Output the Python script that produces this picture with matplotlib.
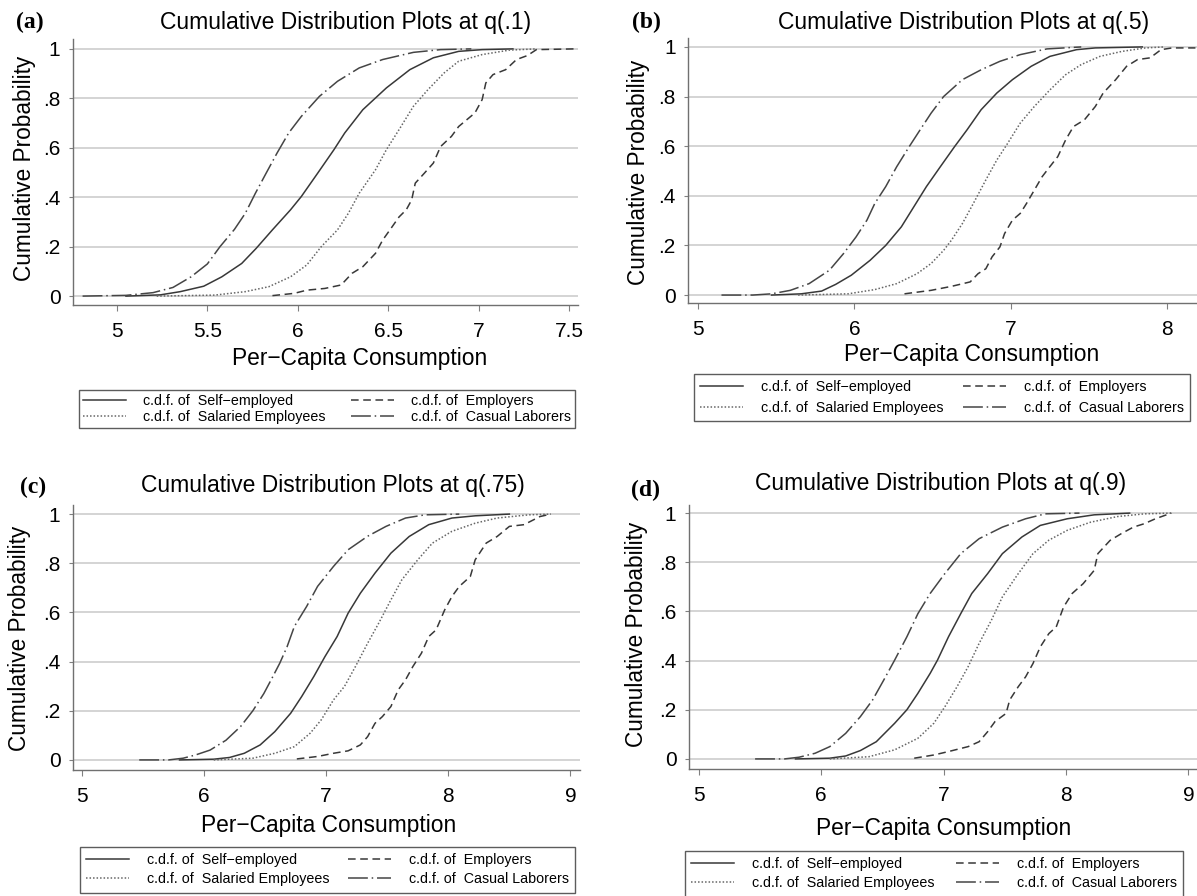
import matplotlib
matplotlib.use("Agg")
import matplotlib.pyplot as plt

plt.rcParams["font.family"] = ["Liberation Sans", "DejaVu Sans"]

W, H = 1197, 896

series_labels = [
    "c.d.f. of  Self\u2212employed",
    "c.d.f. of  Salaried Employees",
    "c.d.f. of  Employers",
    "c.d.f. of  Casual Laborers",
]
titles = [
    "Cumulative Distribution Plots at q(.1)",
    "Cumulative Distribution Plots at q(.5)",
    "Cumulative Distribution Plots at q(.75)",
    "Cumulative Distribution Plots at q(.9)",
]
panel_tags = ["(a)", "(b)", "(c)", "(d)"]
x_label = "Per\u2212Capita Consumption"
y_label = "Cumulative Probability"
y_ticks = [0, 0.2, 0.4, 0.6, 0.8, 1]
y_ticklabels = ["0", ".2", ".4", ".6", ".8", "1"]
x_ticks_a = [5, 5.5, 6, 6.5, 7, 7.5]
x_ticks_b = [5, 6, 7, 8]
x_ticks_cd = [5, 6, 7, 8, 9]

# ---- panel (a): q(.1)
a_self_x = [5.05, 5.24, 5.35, 5.48, 5.58, 5.69, 5.77, 5.86, 5.96, 6.02, 6.11, 6.20, 6.26, 6.36, 6.49, 6.62, 6.75, 6.89, 7.02, 7.19]
a_self_y = [0, 0.005, 0.018, 0.04, 0.078, 0.132, 0.193, 0.268, 0.349, 0.403, 0.497, 0.592, 0.66, 0.754, 0.842, 0.916, 0.964, 0.99, 0.997, 1.0]
a_sal_x = [5.22, 5.54, 5.71, 5.84, 5.96, 6.05, 6.13, 6.22, 6.28, 6.34, 6.43, 6.49, 6.56, 6.64, 6.72, 6.81, 6.89, 7.02, 7.17, 7.32]
a_sal_y = [0, 0.004, 0.018, 0.038, 0.078, 0.126, 0.2, 0.268, 0.335, 0.416, 0.511, 0.592, 0.673, 0.768, 0.835, 0.903, 0.95, 0.977, 0.995, 1.0]
a_emp_x = [5.86, 5.98, 6.05, 6.15, 6.24, 6.30, 6.36, 6.43, 6.47, 6.51, 6.56, 6.60, 6.63, 6.65, 6.70, 6.75, 6.79, 6.85, 6.89, 6.98, 7.02, 7.04, 7.08, 7.15, 7.21, 7.27, 7.32, 7.53]
a_emp_y = [0.002, 0.011, 0.024, 0.031, 0.045, 0.092, 0.119, 0.173, 0.227, 0.268, 0.32, 0.349, 0.389, 0.457, 0.497, 0.538, 0.605, 0.646, 0.686, 0.741, 0.795, 0.862, 0.896, 0.916, 0.957, 0.973, 0.997, 1.0]
a_cas_x = [4.81, 5.05, 5.20, 5.31, 5.41, 5.50, 5.57, 5.65, 5.71, 5.765, 5.825, 5.885, 5.95, 6.02, 6.12, 6.22, 6.34, 6.47, 6.64, 6.79, 6.96]
a_cas_y = [0, 0.003, 0.014, 0.035, 0.078, 0.13, 0.2, 0.27, 0.335, 0.415, 0.497, 0.578, 0.66, 0.727, 0.808, 0.869, 0.923, 0.957, 0.986, 0.997, 1.0]

# ---- panel (b): q(.5)
b_self_x = [5.47, 5.66, 5.79, 5.88, 5.98, 6.10, 6.20, 6.30, 6.38, 6.46, 6.55, 6.64, 6.72, 6.81, 6.91, 7.01, 7.13, 7.25, 7.42, 7.54, 7.84]
b_self_y = [0, 0.005, 0.016, 0.043, 0.08, 0.14, 0.2, 0.275, 0.356, 0.437, 0.518, 0.598, 0.666, 0.747, 0.814, 0.868, 0.922, 0.962, 0.989, 0.996, 1.0]
b_sal_x = [5.64, 5.96, 6.13, 6.27, 6.40, 6.49, 6.57, 6.62, 6.69, 6.76, 6.84, 6.91, 6.98, 7.06, 7.15, 7.25, 7.35, 7.45, 7.57, 7.71, 7.86, 7.98]
b_sal_y = [0, 0.005, 0.022, 0.046, 0.086, 0.127, 0.18, 0.221, 0.288, 0.369, 0.464, 0.544, 0.612, 0.693, 0.76, 0.827, 0.888, 0.929, 0.962, 0.982, 0.996, 1.0]
b_emp_x = [6.32, 6.49, 6.62, 6.74, 6.79, 6.84, 6.88, 6.93, 6.96, 7.01, 7.06, 7.10, 7.15, 7.20, 7.25, 7.30, 7.35, 7.40, 7.47, 7.54, 7.59, 7.67, 7.74, 7.81, 7.89, 7.96, 8.03, 8.18]
b_emp_y = [0.005, 0.019, 0.035, 0.053, 0.086, 0.106, 0.154, 0.194, 0.248, 0.302, 0.329, 0.369, 0.423, 0.477, 0.518, 0.558, 0.625, 0.679, 0.706, 0.76, 0.814, 0.868, 0.922, 0.949, 0.956, 0.989, 0.996, 0.996]
b_cas_x = [5.15, 5.35, 5.47, 5.59, 5.71, 5.84, 5.93, 6.01, 6.08, 6.13, 6.20, 6.27, 6.35, 6.42, 6.49, 6.57, 6.69, 6.81, 6.93, 7.06, 7.23, 7.45]
b_cas_y = [0, 0, 0.005, 0.019, 0.046, 0.1, 0.167, 0.234, 0.302, 0.369, 0.437, 0.517, 0.598, 0.666, 0.733, 0.8, 0.868, 0.908, 0.942, 0.969, 0.992, 1.0]

# ---- panel (c): q(.75)
c_self_x = [5.80, 6.08, 6.21, 6.33, 6.46, 6.58, 6.71, 6.80, 6.90, 6.99, 7.09, 7.18, 7.28, 7.40, 7.53, 7.68, 7.84, 8.03, 8.22, 8.50]
c_self_y = [0, 0.003, 0.01, 0.027, 0.061, 0.115, 0.19, 0.258, 0.34, 0.42, 0.502, 0.597, 0.678, 0.76, 0.841, 0.909, 0.957, 0.984, 0.993, 1.0]
c_sal_x = [6.08, 6.40, 6.58, 6.74, 6.87, 6.96, 7.06, 7.15, 7.24, 7.34, 7.43, 7.53, 7.62, 7.75, 7.87, 8.03, 8.22, 8.40, 8.66, 8.84]
c_sal_y = [0, 0.007, 0.027, 0.054, 0.109, 0.163, 0.244, 0.299, 0.38, 0.475, 0.556, 0.651, 0.733, 0.814, 0.882, 0.93, 0.963, 0.984, 0.997, 1.0]
c_emp_x = [6.76, 6.93, 7.06, 7.18, 7.28, 7.34, 7.40, 7.46, 7.53, 7.59, 7.65, 7.71, 7.78, 7.84, 7.90, 7.97, 8.03, 8.09, 8.18, 8.22, 8.31, 8.40, 8.50, 8.62, 8.75, 8.84]
c_emp_y = [0.004, 0.014, 0.027, 0.037, 0.061, 0.095, 0.149, 0.176, 0.217, 0.285, 0.326, 0.38, 0.434, 0.502, 0.529, 0.61, 0.665, 0.706, 0.746, 0.814, 0.882, 0.909, 0.95, 0.957, 0.99, 1.0]
c_cas_x = [5.47, 5.71, 5.83, 5.93, 6.05, 6.18, 6.30, 6.40, 6.49, 6.55, 6.62, 6.68, 6.74, 6.84, 6.93, 7.06, 7.18, 7.34, 7.49, 7.65, 7.81, 8.09]
c_cas_y = [0, 0, 0.007, 0.02, 0.04, 0.08, 0.136, 0.2, 0.27, 0.326, 0.393, 0.46, 0.543, 0.624, 0.706, 0.787, 0.855, 0.91, 0.95, 0.984, 0.997, 1.0]

# ---- panel (d): q(.9)
d_self_x = [5.79, 6.07, 6.20, 6.32, 6.45, 6.60, 6.70, 6.79, 6.89, 6.95, 7.04, 7.14, 7.23, 7.36, 7.48, 7.64, 7.79, 8.01, 8.23, 8.52]
d_self_y = [0, 0.003, 0.012, 0.034, 0.07, 0.145, 0.2, 0.267, 0.348, 0.402, 0.497, 0.591, 0.673, 0.754, 0.835, 0.903, 0.95, 0.977, 0.993, 1.0]
d_sal_x = [6.07, 6.39, 6.60, 6.79, 6.92, 7.01, 7.11, 7.20, 7.29, 7.39, 7.48, 7.61, 7.73, 7.86, 8.01, 8.20, 8.42, 8.64, 8.86]
d_sal_y = [0, 0.009, 0.037, 0.084, 0.145, 0.212, 0.294, 0.375, 0.47, 0.564, 0.659, 0.754, 0.835, 0.89, 0.93, 0.963, 0.986, 0.997, 1.0]
d_emp_x = [6.76, 6.92, 7.04, 7.20, 7.29, 7.36, 7.42, 7.51, 7.54, 7.61, 7.67, 7.73, 7.79, 7.86, 7.92, 7.98, 8.05, 8.14, 8.23, 8.26, 8.36, 8.45, 8.55, 8.64, 8.73, 8.86]
d_emp_y = [0.003, 0.016, 0.03, 0.05, 0.07, 0.111, 0.152, 0.185, 0.24, 0.294, 0.334, 0.388, 0.456, 0.51, 0.537, 0.618, 0.673, 0.713, 0.767, 0.835, 0.889, 0.916, 0.943, 0.957, 0.977, 1.0]
d_cas_x = [5.46, 5.70, 5.82, 5.95, 6.07, 6.20, 6.32, 6.42, 6.51, 6.60, 6.70, 6.79, 6.89, 7.01, 7.14, 7.29, 7.48, 7.67, 7.83, 8.11]
d_cas_y = [0, 0, 0.007, 0.023, 0.05, 0.104, 0.172, 0.24, 0.32, 0.402, 0.497, 0.591, 0.673, 0.754, 0.835, 0.896, 0.943, 0.977, 0.997, 1.0]

# line styles: self, salaried, employers, casual
styles = [
    dict(color="#383838", linestyle="-"),
    dict(color="#666666", linestyle=(0, (1.0, 1.3))),
    dict(color="#383838", linestyle=(0, (5.0, 3.0))),
    dict(color="#454545", linestyle=(0, (13.0, 2.5, 1.0, 2.5))),
]

# pixel layout of each panel (left, top, right, bottom of axes)
panels = [
    dict(box=(73, 39, 578, 305), xlim=(4.757, 7.55), ylim=(-0.036, 1.04), xticks=x_ticks_a,
         data=[(a_self_x, a_self_y), (a_sal_x, a_sal_y), (a_emp_x, a_emp_y), (a_cas_x, a_cas_y)],
         title=(346, 22), tag=(30, 22), ylab=(25, 168), xlab=(360, 359), leg=(79, 390, 575),
         lsp=0.1, bpad=0.3),
    dict(box=(688, 38, 1197, 303), xlim=(4.936, 8.19), ylim=(-0.032, 1.036), xticks=x_ticks_b,
         data=[(b_self_x, b_self_y), (b_sal_x, b_sal_y), (b_emp_x, b_emp_y), (b_cas_x, b_cas_y)],
         title=(964, 22), tag=(646, 22), ylab=(638, 172), xlab=(972, 354), leg=(694, 374, 1190),
         lsp=0.45, bpad=0.45),
    dict(box=(73, 505, 580, 770), xlim=(4.928, 9.078), ylim=(-0.041, 1.037), xticks=x_ticks_cd,
         data=[(c_self_x, c_self_y), (c_sal_x, c_sal_y), (c_emp_x, c_emp_y), (c_cas_x, c_cas_y)],
         title=(333, 485), tag=(33, 487), ylab=(20, 638), xlab=(329, 825), leg=(80, 847, 575),
         lsp=0.35, bpad=0.45),
    dict(box=(689, 505, 1197, 769), xlim=(4.92, 9.07), ylim=(-0.041, 1.033), xticks=x_ticks_cd,
         data=[(d_self_x, d_self_y), (d_sal_x, d_sal_y), (d_emp_x, d_emp_y), (d_cas_x, d_cas_y)],
         title=(941, 483), tag=(646, 490), ylab=(637, 634), xlab=(944, 828), leg=(685, 851, 1183),
         lsp=0.35, bpad=0.45),
]

fig = plt.figure(figsize=(W / 100, H / 100), dpi=100)

for i, p in enumerate(panels):
    l, t, r, b = p["box"]
    ax = fig.add_axes([l / W, 1 - b / H, (r - l) / W, (b - t) / H])
    handles = []
    for (xs, ys), st, lab in zip(p["data"], styles, series_labels):
        h, = ax.plot(xs, ys, lw=1.1, label=lab, **st)
        handles.append(h)
    ax.set_xlim(*p["xlim"])
    ax.set_ylim(*p["ylim"])
    ax.set_xticks(p["xticks"])
    ax.set_xticklabels([f"{v:g}" for v in p["xticks"]])
    ax.set_yticks(y_ticks)
    ax.set_yticklabels(y_ticklabels)
    ax.grid(axis="y", color="#d4d4d4", lw=1.4)
    ax.set_axisbelow(True)
    for s in ["top", "right"]:
        ax.spines[s].set_visible(False)
    for s in ["left", "bottom"]:
        ax.spines[s].set_color("#707070")
        ax.spines[s].set_linewidth(1.0)
    ax.tick_params(axis="x", length=4, width=0.8, color="#808080", pad=8, labelsize=15)
    ax.tick_params(axis="y", length=3, width=0.8, color="#808080", pad=6, labelsize=15)

    fig.text(p["title"][0] / W, 1 - p["title"][1] / H, titles[i], fontsize=16.5,
             ha="center", va="center")
    fig.text(p["tag"][0] / W, 1 - p["tag"][1] / H, panel_tags[i], fontsize=17,
             fontweight="bold", family=["Liberation Serif", "DejaVu Serif"], ha="center", va="center")
    fig.text(p["ylab"][0] / W, 1 - p["ylab"][1] / H, y_label, fontsize=16.3, rotation=90,
             ha="center", va="center")
    fig.text(p["xlab"][0] / W, 1 - p["xlab"][1] / H, x_label, fontsize=16.4,
             ha="center", va="center")

    lx0, ly0, lx1 = p["leg"]
    leg = fig.legend(handles=handles, labels=series_labels, ncol=2,
                     loc="upper left", mode="expand",
                     bbox_to_anchor=(lx0 / W, 1 - ly0 / H, (lx1 - lx0) / W, 0.0),
                     fontsize=10.3, handlelength=3.0, handletextpad=1.2,
                     columnspacing=1.2, labelspacing=p["lsp"], borderpad=p["bpad"],
                     frameon=True, fancybox=False, borderaxespad=0.0)
    leg.get_frame().set_edgecolor("#333333")
    leg.get_frame().set_linewidth(1.0)

fig.savefig("out.png", dpi=100, facecolor="white")
